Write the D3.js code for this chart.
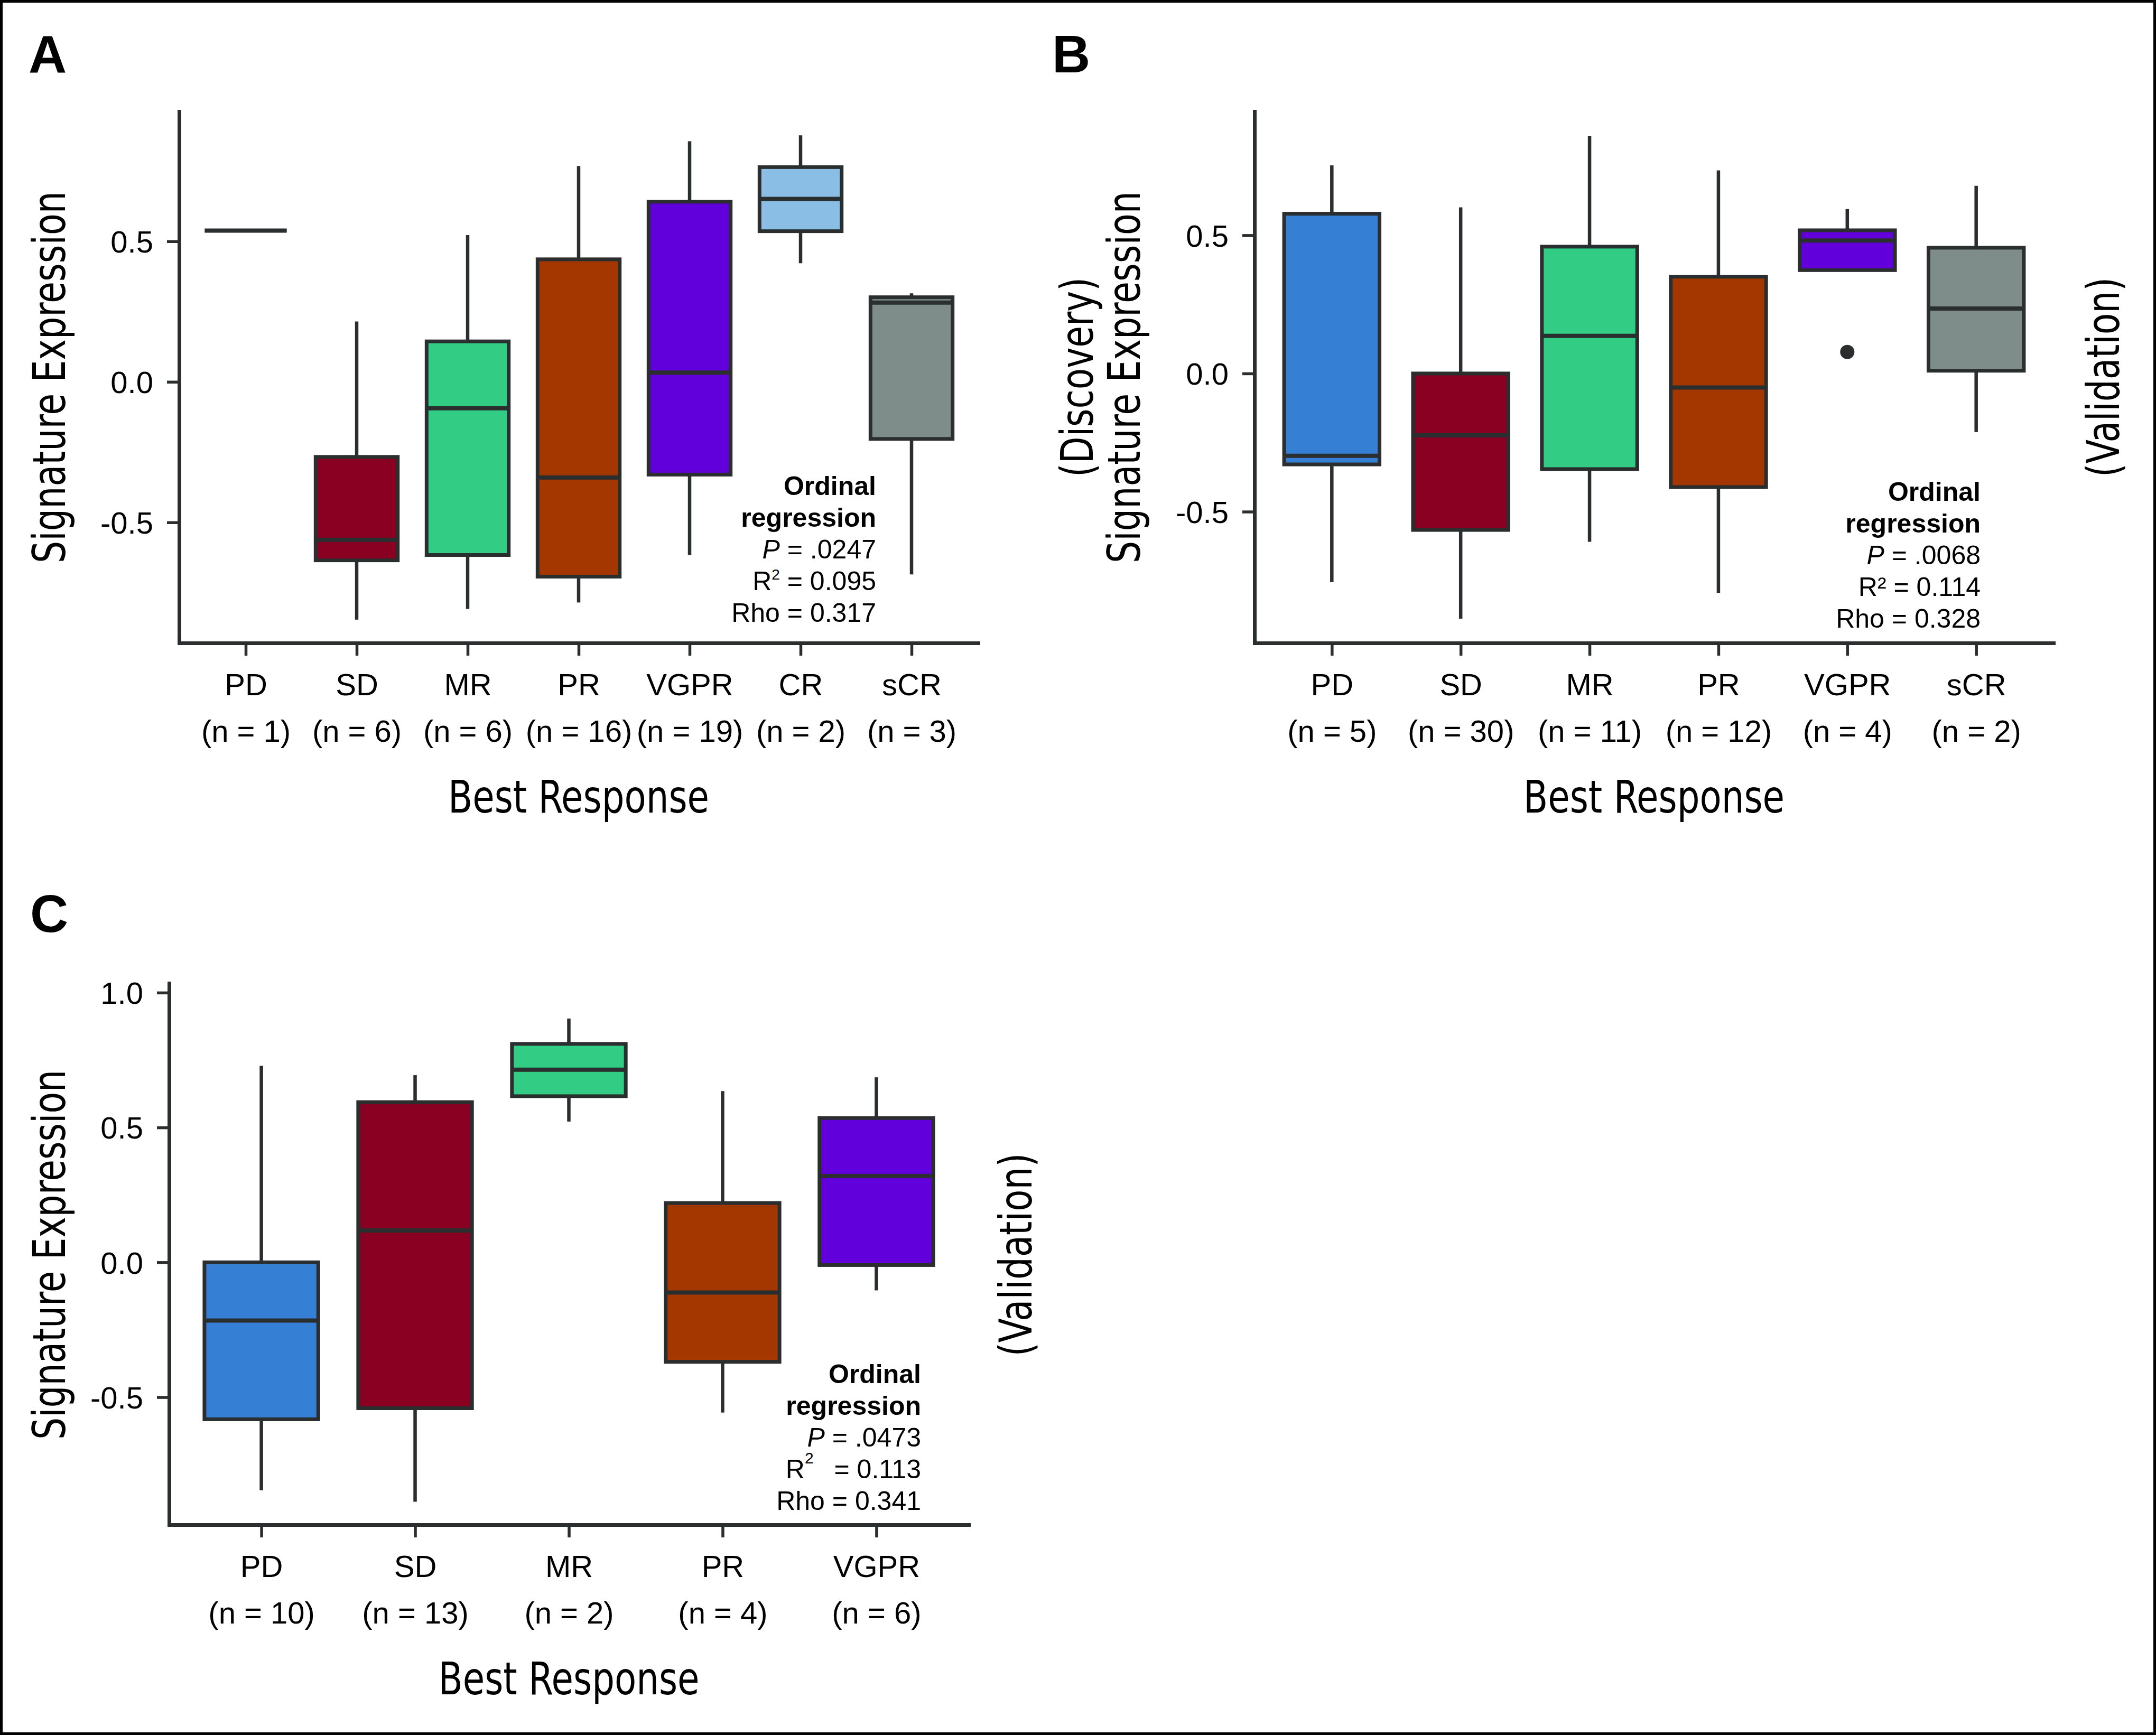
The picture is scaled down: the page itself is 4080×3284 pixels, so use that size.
<!DOCTYPE html>
<html><head><meta charset="utf-8">
<script src="https://cdn.jsdelivr.net/npm/d3@7"></script>
<style>body{margin:0;background:#fff}</style>
</head><body>
<script>
// ---------------- DATA ----------------
// Panel A (Discovery)
const catsA = ["PD","SD","MR","PR","VGPR","CR","sCR"];
const countsA = [1,6,6,16,19,2,3];
const whiskerHighA = [0.538, 0.215, 0.522, 0.768, 0.856, 0.877, 0.315];
const q3A          = [0.538,-0.267, 0.144, 0.436, 0.641, 0.764, 0.301];
const medianA      = [0.538,-0.562,-0.094,-0.340, 0.033, 0.651, 0.282];
const q1A          = [0.538,-0.635,-0.616,-0.693,-0.330, 0.536,-0.203];
const whiskerLowA  = [0.538,-0.846,-0.808,-0.785,-0.616, 0.422,-0.685];
const outliersA    = [[],[],[],[],[],[],[]];
const yTicksA = [-0.5, 0.0, 0.5];
const statsA = ["Ordinal","regression",".0247","0.095","0.317"];

// Panel B (Discovery / Validation)
const catsB = ["PD","SD","MR","PR","VGPR","sCR"];
const countsB = [5,30,11,12,4,2];
const whiskerHighB = [0.753, 0.601, 0.860, 0.735, 0.595, 0.679];
const q3B          = [0.578, 0.000, 0.459, 0.350, 0.518, 0.455];
const medianB      = [-0.298,-0.224, 0.136,-0.051, 0.481, 0.235];
const q1B          = [-0.329,-0.566,-0.346,-0.411, 0.374, 0.010];
const whiskerLowB  = [-0.755,-0.887,-0.609,-0.794, 0.374,-0.212];
const outliersB    = [[],[],[],[],[0.078],[]];
const yTicksB = [-0.5, 0.0, 0.5];
const statsB = ["Ordinal","regression",".0068","0.114","0.328"];

// Panel C (Validation)
const catsC = ["PD","SD","MR","PR","VGPR"];
const countsC = [10,13,2,4,6];
const whiskerHighC = [0.729, 0.694, 0.904, 0.635, 0.686];
const q3C          = [0.000, 0.594, 0.810, 0.220, 0.535];
const medianC      = [-0.216, 0.118, 0.714,-0.112, 0.320];
const q1C          = [-0.582,-0.541, 0.616,-0.369,-0.010];
const whiskerLowC  = [-0.845,-0.888, 0.522,-0.557,-0.104];
const outliersC    = [[],[],[],[],[]];
const yTicksC = [-0.5, 0.0, 0.5, 1.0];
const statsC = ["Ordinal","regression",".0473","0.113","0.341"];

const colorByCat = {PD:"#3580D5", SD:"#8A0023", MR:"#32CC85", PR:"#A43700",
                    VGPR:"#6100DA", CR:"#8ABEE4", sCR:"#7E8D8A"};

// ---------------- DRAW ----------------
const W = 4080, H = 3284;
const INK = "#2a2e2e";
const SANS = "'Liberation Sans', Arial, Helvetica, sans-serif";
const NARROW = "'Liberation Sans Narrow', 'Arial Narrow', 'DejaVu Sans Condensed', sans-serif";

const svg = d3.select("body").append("svg")
  .attr("width", W).attr("height", H).attr("viewBox", `0 0 ${W} ${H}`);
svg.append("rect").attr("x",0).attr("y",0).attr("width",W).attr("height",H).attr("fill","#fff");
svg.append("rect").attr("x",2.5).attr("y",2.5).attr("width",W-5).attr("height",H-5)
  .attr("fill","none").attr("stroke","#000").attr("stroke-width",5);

function bigLabel(g, attrs, text, len) {
  const t = g.append("text").attr("text-anchor", "middle")
    .style("font-family", NARROW).style("font-size", "86px").attr("fill", "#000")
    .attr("textLength", len).attr("lengthAdjust", "spacingAndGlyphs").text(text);
  Object.entries(attrs).forEach(([k, v]) => t.attr(k, v));
  return t;
}

function drawPanel(cfg) {
  const g = svg.append("g");
  const x = d3.scalePoint().domain(cfg.cats).range([cfg.left, cfg.right]).padding(0.6);
  const y = d3.scaleLinear().domain(cfg.yDomain).range([cfg.bottom, cfg.top]);
  const bw = x.step() * 0.74;

  // y axis
  const ya = g.append("g").attr("transform", `translate(${cfg.left},0)`)
    .call(d3.axisLeft(y).tickValues(cfg.yTicks).tickFormat(d => d.toFixed(1))
      .tickSize(23).tickSizeOuter(0).tickPadding(26));
  // x axis
  const xa = g.append("g").attr("transform", `translate(0,${cfg.bottom})`)
    .call(d3.axisBottom(x).tickSize(24).tickSizeOuter(0));
  [ya, xa].forEach(a => {
    a.select(".domain").attr("stroke", INK).attr("stroke-width", 7).attr("stroke-linecap","square");
    a.selectAll(".tick line").attr("stroke", INK).attr("stroke-width", 5.5);
    a.selectAll(".tick text").attr("fill", "#000").style("font-family", SANS).style("font-size", "58px");
  });
  ya.selectAll(".tick text").attr("dy", "0.36em");
  xa.selectAll(".tick text").each(function(d, i) {
    const t = d3.select(this).text(null).attr("dy", null).attr("y", null);
    t.append("tspan").attr("x", 0).attr("y", 99).text(d);
    t.append("tspan").attr("x", 0).attr("y", 187).text(`(n = ${cfg.counts[i]})`);
  });
  g.selectAll(".tick text").attr("font-family", null).attr("font-size", null);

  // boxes
  cfg.cats.forEach((c, i) => {
    const cx = x(c);
    const bg = g.append("g");
    bg.append("line").attr("x1", cx).attr("x2", cx)
      .attr("y1", y(cfg.q3[i])).attr("y2", y(cfg.whiskerHigh[i]))
      .attr("stroke", INK).attr("stroke-width", 6.5);
    bg.append("line").attr("x1", cx).attr("x2", cx)
      .attr("y1", y(cfg.q1[i])).attr("y2", y(cfg.whiskerLow[i]))
      .attr("stroke", INK).attr("stroke-width", 6.5);
    const h = y(cfg.q1[i]) - y(cfg.q3[i]);
    if (h > 0.5) {
      bg.append("rect").attr("x", cx - bw/2).attr("y", y(cfg.q3[i]))
        .attr("width", bw).attr("height", h)
        .attr("fill", colorByCat[c]).attr("stroke", INK).attr("stroke-width", 7);
    }
    bg.append("line").attr("x1", cx - bw/2).attr("x2", cx + bw/2)
      .attr("y1", y(cfg.median[i])).attr("y2", y(cfg.median[i]))
      .attr("stroke", INK).attr("stroke-width", 8);
    cfg.outliers[i].forEach(v => {
      bg.append("circle").attr("cx", cx).attr("cy", y(v)).attr("r", 13.5).attr("fill", INK);
    });
  });

  // stats annotation
  const s = cfg.stats;
  const ann = g.append("text").attr("text-anchor", "end").attr("fill", "#000")
    .style("font-family", SANS).style("font-size", "50px");
  const L = (k) => cfg.annY + 60 * k;
  ann.append("tspan").attr("x", cfg.annX).attr("y", L(0)).attr("font-weight", "bold").text(s[0]);
  ann.append("tspan").attr("x", cfg.annX).attr("y", L(1)).attr("font-weight", "bold").text(s[1]);
  const p = ann.append("tspan").attr("x", cfg.annX).attr("y", L(2));
  p.append("tspan").attr("font-style", "italic").text("P");
  p.append("tspan").text(" = " + s[2]);
  if (cfg.r2style === "unicode") {
    ann.append("tspan").attr("x", cfg.annX).attr("y", L(3)).text("R\u00B2 = " + s[3]);
  } else if (cfg.r2style === "high") {
    ann.append("tspan").attr("x", cfg.annX).attr("y", L(3)).text("R");
    ann.append("tspan").attr("dy", -28).attr("font-size", "30px").text("2");
    ann.append("tspan").attr("dy", 28).text("\u2002 = " + s[3]);
  } else {
    ann.append("tspan").attr("x", cfg.annX).attr("y", L(3)).text("R");
    ann.append("tspan").attr("dy", -20).attr("font-size", "28px").text("2");
    ann.append("tspan").attr("dy", 20).text(" = " + s[3]);
  }
  ann.append("tspan").attr("x", cfg.annX).attr("y", L(4)).text("Rho = " + s[4]);

  // axis titles
  const cxAxis = (cfg.left + cfg.right) / 2;
  bigLabel(g, {x: cxAxis, y: cfg.bottom + 321}, "Best Response", 494);
  cfg.yLabels.forEach(lb => {
    bigLabel(g, {transform: `translate(${lb.x},${cfg.yLabelMid}) rotate(-90)`}, lb.text, lb.len);
  });
  // panel letter
  g.append("text").attr("x", cfg.letterX).attr("y", cfg.letterY)
    .style("font-family", SANS).style("font-weight", "bold").style("font-size", "100px")
    .attr("fill", "#000").text(cfg.letter);
}

drawPanel({
  letter: "A", letterX: 54, letterY: 138,
  cats: catsA, counts: countsA, whiskerHigh: whiskerHighA, q3: q3A, median: medianA,
  q1: q1A, whiskerLow: whiskerLowA, outliers: outliersA, yTicks: yTicksA, stats: statsA,
  left: 339, right: 1851, top: 211, bottom: 1217, yDomain: [-0.929, 0.962],
  annX: 1658, annY: 937, r2style: "small",
  yLabelMid: 714, yLabels: [{x: 123, text: "Signature Expression", len: 704}]
});
drawPanel({
  letter: "B", letterX: 1991, letterY: 137,
  cats: catsB, counts: countsB, whiskerHigh: whiskerHighB, q3: q3B, median: medianB,
  q1: q1B, whiskerLow: whiskerLowB, outliers: outliersB, yTicks: yTicksB, stats: statsB,
  left: 2374, right: 3886, top: 211, bottom: 1217, yDomain: [-0.975, 0.948],
  annX: 3748, annY: 948, r2style: "unicode",
  yLabelMid: 714, yLabels: [{x: 2068, text: "(Discovery)", len: 378},
                            {x: 2157, text: "Signature Expression", len: 704},
                            {x: 4010, text: "(Validation)", len: 378}]
});
drawPanel({
  letter: "C", letterX: 57, letterY: 1764,
  cats: catsC, counts: countsC, whiskerHigh: whiskerHighC, q3: q3C, median: medianC,
  q1: q1C, whiskerLow: whiskerLowC, outliers: outliersC, yTicks: yTicksC, stats: statsC,
  left: 320, right: 1833, top: 1861, bottom: 2886, yDomain: [-0.973, 1.035],
  annX: 1743, annY: 2618, r2style: "high",
  yLabelMid: 2375, yLabels: [{x: 123, text: "Signature Expression", len: 700},
                             {x: 1952, text: "(Validation)", len: 385}]
});
</script>
</body></html>
